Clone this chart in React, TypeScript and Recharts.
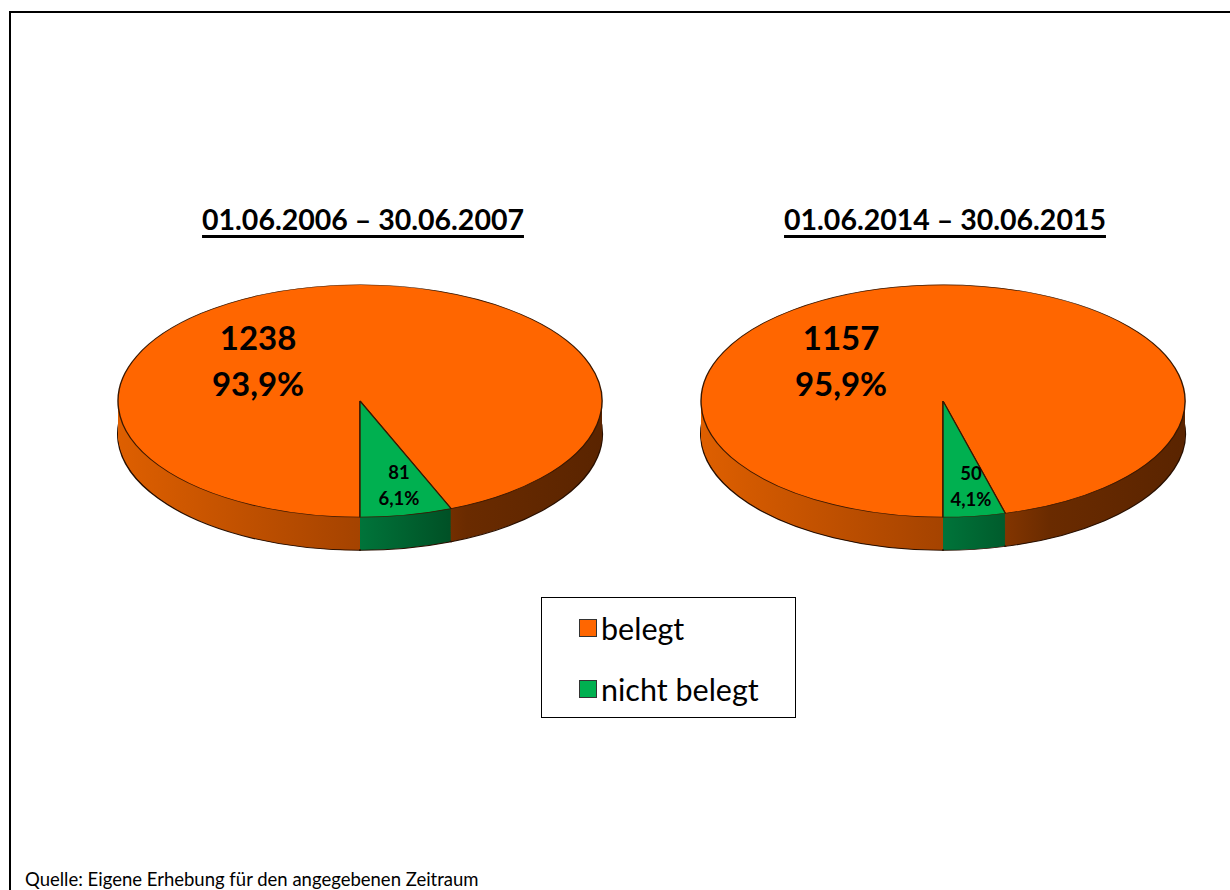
import React from "react";
import { Pie, PieChart, Cell } from "recharts";

const PERIODS = ["01.06.2006 – 30.06.2007", "01.06.2014 – 30.06.2015"];
const CATEGORIES = ["belegt", "nicht belegt"];
const VALUES_2006 = [1238, 81];
const VALUES_2014 = [1157, 50];
const SOURCE = "Quelle: Eigene Erhebung für den angegebenen Zeitraum";

const TOP_COLORS = ["#FF6600", "#00B050"];
const SIDE_GRADIENTS = ["sideOrange", "sideGreen"];

// flatten the round pie into a tilted disc
const K = 0.48;
const R = 242;
const DEPTH = 69; // unscaled side height
const LAYERS = Array.from({ length: 35 }, (_, i) => DEPTH - i * 2).filter((d) => d > 0);

const FONT = "Lato, 'Open Sans', sans-serif";

function fmtPct(p: number) {
  return (p * 100).toFixed(1).replace(".", ",") + "%";
}

function makeLabel(total: number) {
  return (props: any) => {
    const { cx, cy, midAngle, outerRadius, index, value } = props;
    const big = index === 0;
    const angle = big ? 140 : midAngle + 1.5;
    const f = big ? 0.55 : 0.74;
    const rad = Math.PI / 180;
    const x = cx + Math.cos(angle * rad) * outerRadius * f;
    const y = cy - Math.sin(angle * rad) * outerRadius * f;
    const size = big ? 33 : 18.5;
    const gap = big ? 23 : 13;
    return (
      <g transform={`translate(${x} ${y}) scale(1 ${1 / K})`}>
        <text
          textAnchor="middle"
          fontFamily={FONT}
          fontWeight={700}
          fontSize={size}
          fill="#000"
        >
          <tspan x={0} y={-gap} dominantBaseline="central">
            {value}
          </tspan>
          <tspan x={0} y={gap} dominantBaseline="central">
            {fmtPct(value / total)}
          </tspan>
        </text>
      </g>
    );
  };
}

function Pie3D({ values, left }: { values: number[]; left: number }) {
  const data = CATEGORIES.map((name, i) => ({ name, value: values[i] }));
  const total = values.reduce((a, b) => a + b, 0);
  return (
    <div
      style={{
        position: "absolute",
        left,
        top: 281,
        width: 500,
        height: 570,
        transform: `scaleY(${K})`,
        transformOrigin: "top left",
      }}
    >
      <PieChart width={500} height={570} margin={{ top: 0, right: 0, bottom: 0, left: 0 }}>
        <defs>
          <linearGradient id="sideOrange" gradientUnits="userSpaceOnUse" x1={8} y1={0} x2={492} y2={0}>
            <stop offset="0" stopColor="#de5f00" />
            <stop offset="0.5" stopColor="#a54300" />
            <stop offset="0.72" stopColor="#6a2b00" />
            <stop offset="1" stopColor="#5a2400" />
          </linearGradient>
          <linearGradient id="sideGreen" gradientUnits="userSpaceOnUse" x1={8} y1={0} x2={492} y2={0}>
            <stop offset="0" stopColor="#00a050" />
            <stop offset="0.5" stopColor="#00743a" />
            <stop offset="0.72" stopColor="#004a22" />
            <stop offset="1" stopColor="#003a1a" />
          </linearGradient>
        </defs>
        {LAYERS.map((d, li) => (
          <Pie
            key={`side-${d}`}
            data={data}
            dataKey="value"
            nameKey="name"
            cx={250}
            cy={250 + d}
            outerRadius={R}
            startAngle={-90}
            endAngle={-450}
            isAnimationActive={false}
            stroke={li === 0 ? "#2a1000" : "none"}
            strokeWidth={li === 0 ? 2 : 0}
          >
            {data.map((e, i) => (
              <Cell key={e.name} fill={`url(#${SIDE_GRADIENTS[i]})`} />
            ))}
          </Pie>
        ))}
        <Pie
          data={data}
          dataKey="value"
          nameKey="name"
          cx={250}
          cy={250}
          outerRadius={R}
          startAngle={-90}
          endAngle={-450}
          isAnimationActive={false}
          stroke="#3a1800"
          strokeWidth={1.4}
          label={makeLabel(total)}
          labelLine={false}
        >
          {data.map((e, i) => (
            <Cell key={e.name} fill={TOP_COLORS[i]} />
          ))}
        </Pie>
      </PieChart>
    </div>
  );
}

function Title({ text, center }: { text: string; center: number }) {
  return (
    <div
      style={{
        position: "absolute",
        left: center - 250,
        width: 500,
        top: 203,
        textAlign: "center",
        fontFamily: FONT,
        fontWeight: 700,
        fontSize: 28.5,
        lineHeight: "32px",
        color: "#000",
        textDecoration: "underline",
        textDecorationThickness: "3px",
        textUnderlineOffset: "5px",
      }}
    >
      {text}
    </div>
  );
}

export default function App() {
  return (
    <div
      style={{
        position: "absolute",
        left: 0,
        top: 0,
        width: 1230,
        height: 890,
        overflow: "hidden",
        background: "#fff",
        fontFamily: FONT,
      }}
    >
      <div
        style={{
          position: "absolute",
          left: 9,
          top: 11,
          width: 1300,
          height: 1000,
          borderLeft: "2px solid #000",
          borderTop: "2px solid #000",
        }}
      />
      <Title text={PERIODS[0]} center={363} />
      <Title text={PERIODS[1]} center={945} />
      <Pie3D values={VALUES_2006} left={110} />
      <Pie3D values={VALUES_2014} left={693} />
      <div
        style={{
          position: "absolute",
          left: 541,
          top: 597,
          width: 253,
          height: 119,
          border: "1px solid #000",
          background: "#fff",
        }}
      >
        {CATEGORIES.map((c, i) => (
          <div
            key={c}
            style={{
              position: "absolute",
              left: 37,
              top: 12 + i * 61,
              display: "flex",
              alignItems: "center",
              fontSize: 30.5,
              lineHeight: "36px",
              color: "#000",
            }}
          >
            <span
              style={{
                display: "inline-block",
                width: 16,
                height: 16,
                background: TOP_COLORS[i],
                border: "1px solid #333",
                marginRight: 4,
              }}
            />
            {c}
          </div>
        ))}
      </div>
      <div
        style={{
          position: "absolute",
          left: 25,
          top: 868,
          fontSize: 18.5,
          lineHeight: "22px",
          whiteSpace: "nowrap",
          color: "#000",
        }}
      >
        {SOURCE}
      </div>
    </div>
  );
}
